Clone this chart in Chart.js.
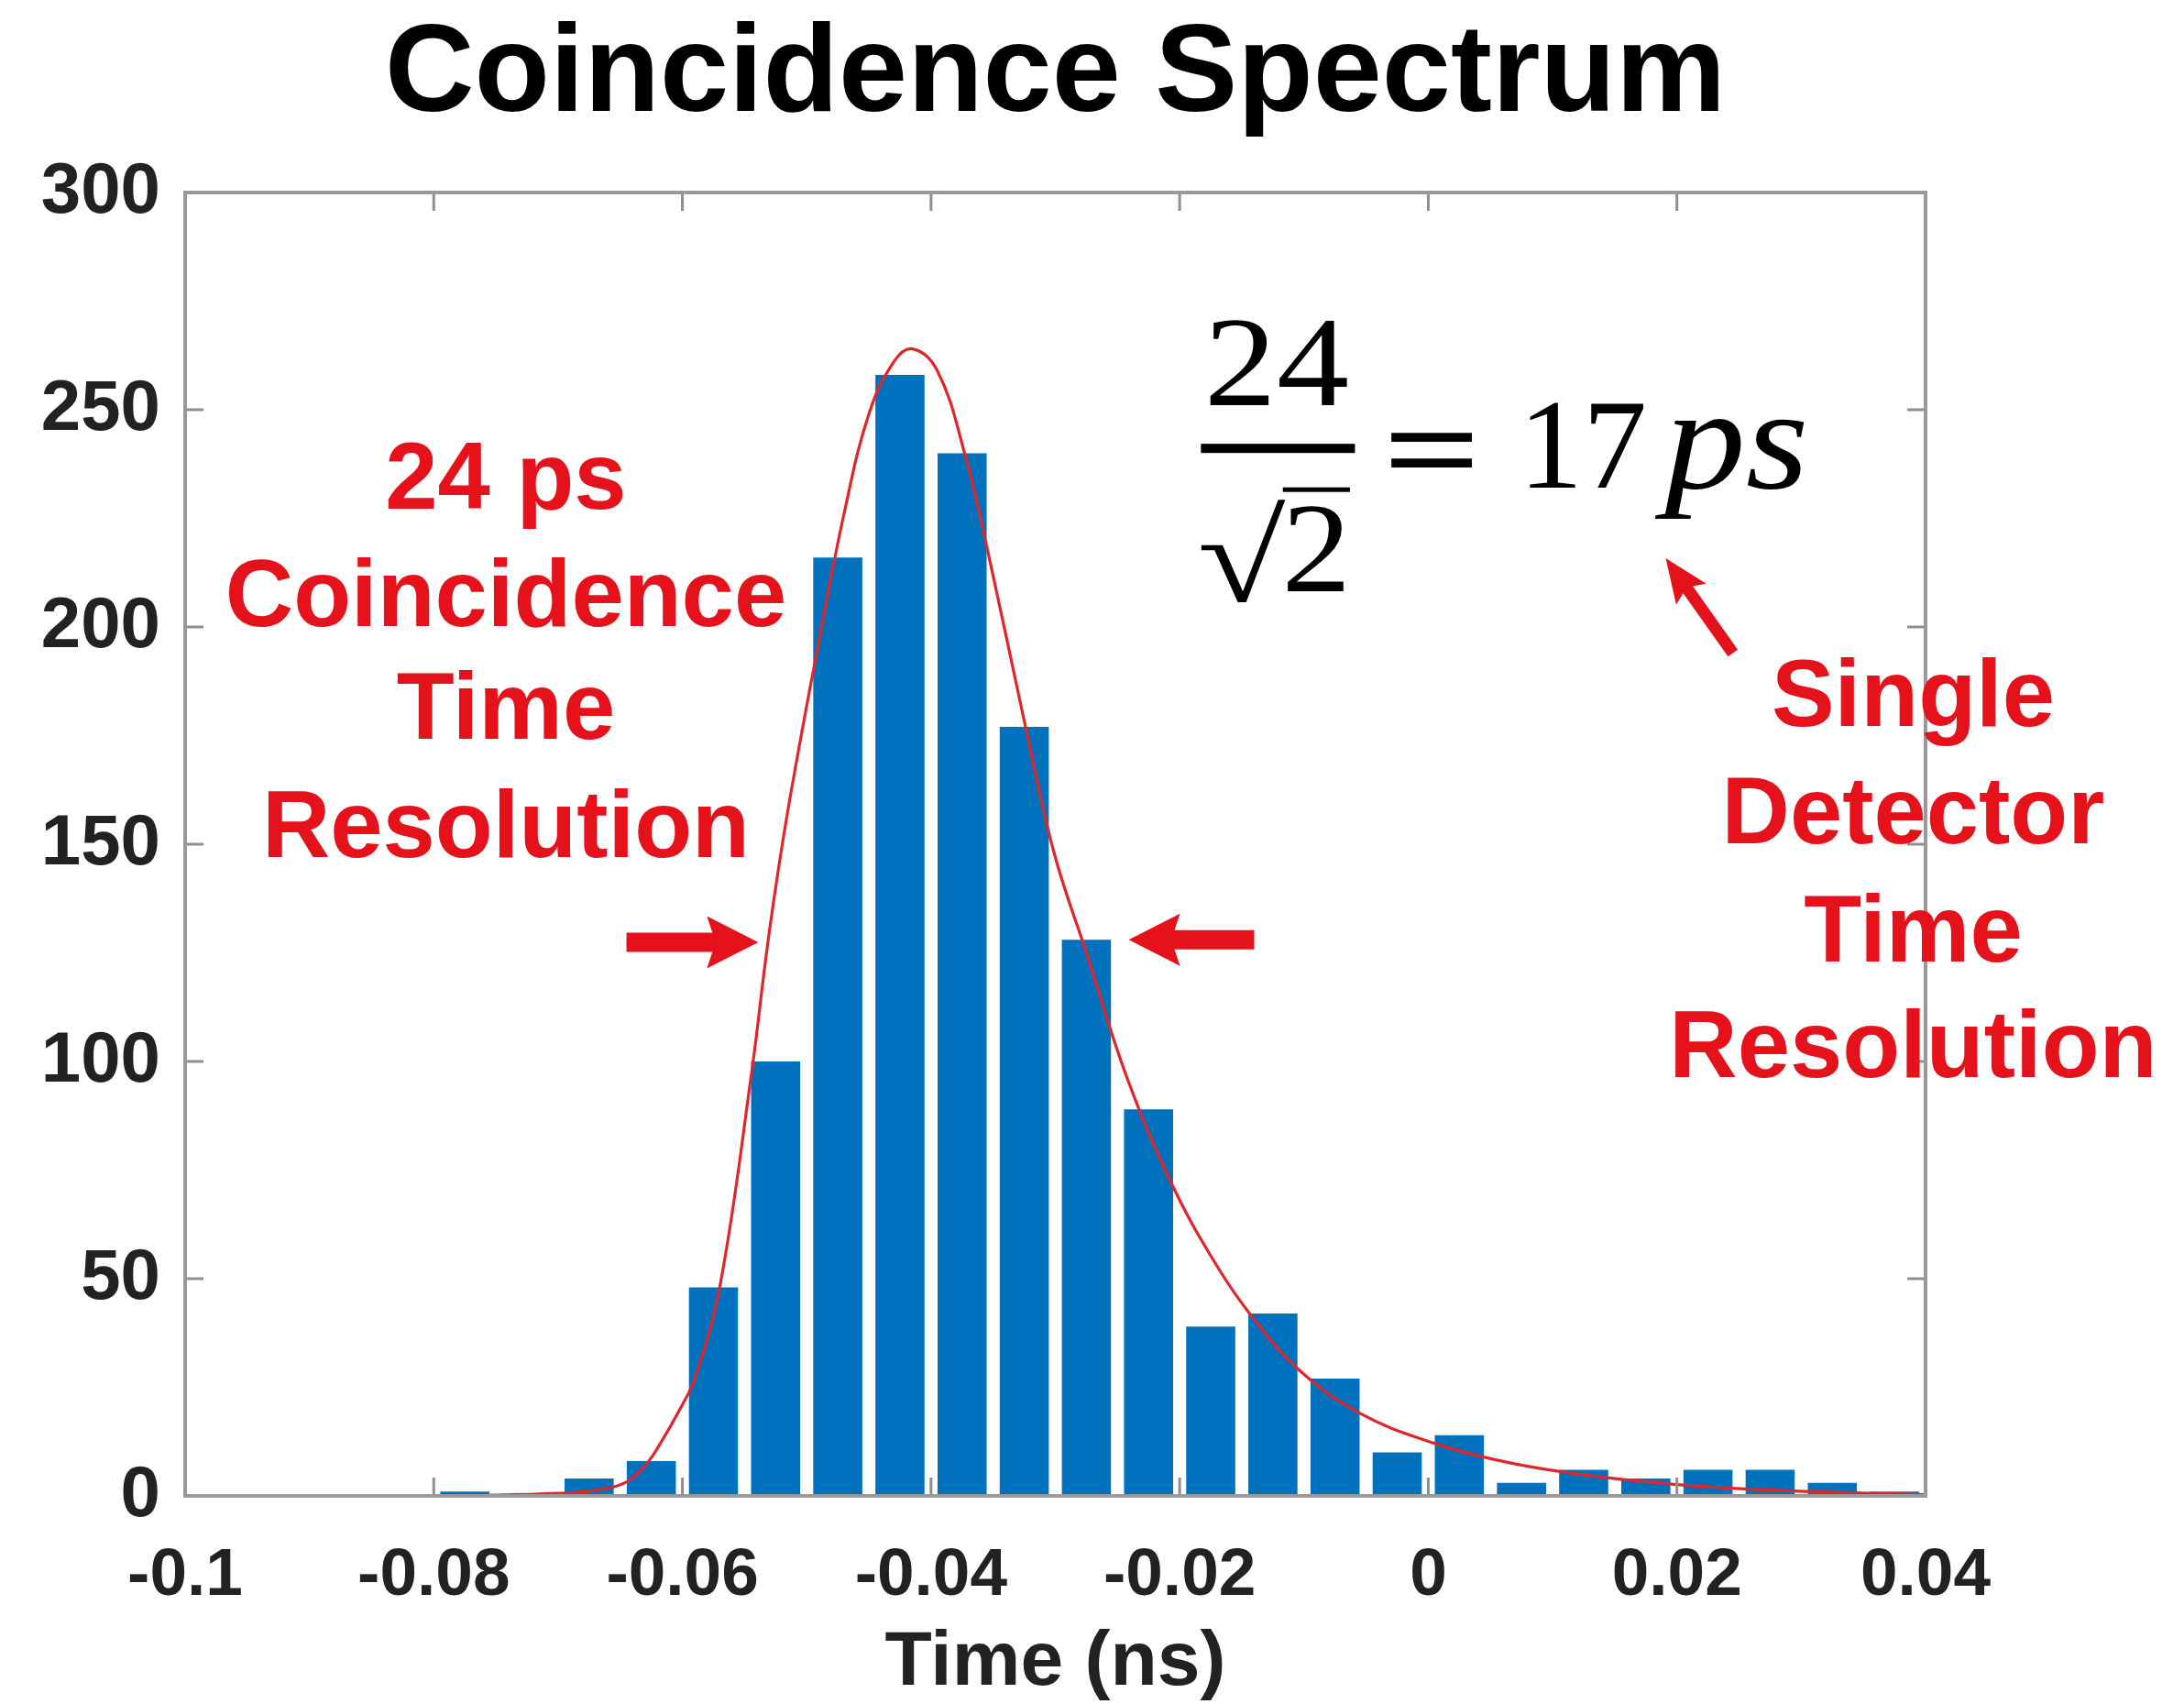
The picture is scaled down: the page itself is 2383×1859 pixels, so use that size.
<!DOCTYPE html>
<html>
<head>
<meta charset="utf-8">
<script src="https://cdn.jsdelivr.net/npm/chart.js@4.4.1/dist/chart.umd.min.js"></script>
<style>
  html, body { margin: 0; padding: 0; background: #fff; }
  canvas { display: block; }
</style>
</head>
<body>
<canvas id="spectrum" width="2383" height="1859"></canvas>
<script>
// Histogram bins (ns) and counts
const binCenters = [-0.0775, -0.0725, -0.0675, -0.0625, -0.0575, -0.0525, -0.0475, -0.0425,
                    -0.0375, -0.0325, -0.0275, -0.0225, -0.0175, -0.0125, -0.0075, -0.0025,
                    0.0025, 0.0075, 0.0125, 0.0175, 0.0225, 0.0275, 0.0325, 0.0375];
const counts = [1, 0, 4, 8, 48, 100, 216, 258,
                240, 177, 128, 89, 39, 42, 27, 10,
                14, 3, 6, 4, 6, 6, 3, 1];

// Fit curve
const fitTimes = [-0.1, -0.085, -0.075, -0.07, -0.067, -0.0645, -0.063, -0.062, -0.06, -0.059,
                  -0.057, -0.0545, -0.053, -0.0515, -0.049, -0.047, -0.045, -0.043, -0.0415, -0.0395,
                  -0.0373, -0.0354, -0.0324, -0.0301, -0.0275, -0.0242, -0.0205, -0.0168, -0.0141, -0.0104,
                  -0.0055, 0.0006, 0.0056, 0.0106, 0.0169, 0.024, 0.031, 0.04];
const fitCounts = [0, 0, 0.2, 0.6, 1.3, 3.2, 7, 11, 21, 27,
                   48, 96, 130, 158, 197, 226, 249, 261, 264, 259,
                   240, 217, 177, 148, 125, 96, 71, 52, 41, 29,
                   19, 12, 8.2, 5.6, 3.4, 1.8, 1.0, 0.3];

// Axis ticks
const timeTicks = [-0.1, -0.08, -0.06, -0.04, -0.02, 0, 0.02, 0.04];
const countTicks = [0, 50, 100, 150, 200, 250, 300];

// Annotation text
const leftNote = ['24 ps', 'Coincidence', 'Time', 'Resolution'];
const rightNote = ['Single', 'Detector', 'Time', 'Resolution'];

const RED = '#e5121b';
const SANS = '"Liberation Sans", Arial, sans-serif';
const SERIF = '"Liberation Serif", "Times New Roman", serif';

function drawArrow(ctx, x1, y1, x2, y2, shaft, headLen, headW) {
    const ang = Math.atan2(y2 - y1, x2 - x1);
    const len = Math.hypot(x2 - x1, y2 - y1);
    ctx.save();
    ctx.translate(x1, y1);
    ctx.rotate(ang);
    ctx.beginPath();
    ctx.moveTo(0, -shaft / 2);
    ctx.lineTo(len - headLen, -shaft / 2);
    ctx.lineTo(len - headLen - 6, -headW / 2);
    ctx.lineTo(len, 0);
    ctx.lineTo(len - headLen - 6, headW / 2);
    ctx.lineTo(len - headLen, shaft / 2);
    ctx.lineTo(0, shaft / 2);
    ctx.closePath();
    ctx.fill();
    ctx.restore();
}

// text stretched horizontally (the math font is wider than Liberation Serif)
function wideText(ctx, s, x, y, sx) {
    ctx.save();
    ctx.translate(x, y);
    ctx.scale(sx, 1);
    ctx.fillText(s, 0, 0);
    ctx.restore();
}

// Box around the axes with inward ticks (MATLAB style)
const boxPlugin = {
    id: 'box',
    afterDatasetsDraw(chart) {
        const { ctx, chartArea: a, scales } = chart;
        const tick = 20;
        ctx.save();
        ctx.strokeStyle = '#8e8e8e';
        ctx.lineWidth = 3;
        ctx.beginPath();
        scales.x.ticks.forEach(t => {
            const px = scales.x.getPixelForValue(t.value);
            ctx.moveTo(px, a.bottom); ctx.lineTo(px, a.bottom - tick);
            ctx.moveTo(px, a.top); ctx.lineTo(px, a.top + tick);
        });
        scales.y.ticks.forEach(t => {
            const py = scales.y.getPixelForValue(t.value);
            ctx.moveTo(a.left, py); ctx.lineTo(a.left + tick, py);
            ctx.moveTo(a.right, py); ctx.lineTo(a.right - tick, py);
        });
        ctx.stroke();
        ctx.lineWidth = 4;
        ctx.strokeStyle = '#999';
        ctx.strokeRect(a.left, a.top, a.right - a.left, a.bottom - a.top);
        ctx.restore();
    },
    afterDraw(chart) {
        const { ctx, scales } = chart;
        const px = v => scales.x.getPixelForValue(v);
        const py = v => scales.y.getPixelForValue(v);
        ctx.save();

        // red notes
        ctx.fillStyle = RED;
        ctx.font = `bold 103px ${SANS}`;
        ctx.textAlign = 'center';
        ctx.textBaseline = 'middle';
        const leftY = [233.2, 206.2, 180.2, 153.0];
        leftNote.forEach((s, i) => ctx.fillText(s, px(-0.0742), py(leftY[i])));
        const rightY = [183.3, 156.1, 129.0, 102.5];
        rightNote.forEach((s, i) => ctx.fillText(s, px(0.039), py(rightY[i])));

        // arrows
        drawArrow(ctx, px(-0.0645), py(127.4), px(-0.0539), py(127.4), 21, 50, 57);
        drawArrow(ctx, px(-0.0140), py(128), px(-0.0241), py(128), 21, 50, 57);
        drawArrow(ctx, px(0.0245), py(194), px(0.0191), py(215.8), 13, 42, 40);

        // 24 / sqrt(2) = 17 ps
        ctx.fillStyle = '#000';
        ctx.textBaseline = 'alphabetic';
        ctx.font = `140px ${SERIF}`;
        ctx.textAlign = 'center';
        wideText(ctx, '24', px(-0.0122), py(251), 1.13);
        ctx.fillRect(px(-0.01829), py(241.1) - 5, px(-0.0059) - px(-0.01829), 10);
        wideText(ctx, '2', px(-0.0090), py(208.2), 1.08);
        ctx.textAlign = 'right';
        wideText(ctx, '\u221A', px(-0.0115), py(206), 1.25);
        ctx.fillRect(px(-0.0117), py(231.5) - 3, px(-0.0063) - px(-0.0117), 5);
        ctx.textAlign = 'center';
        ctx.font = `bold 140px ${SERIF}`;
        wideText(ctx, '=', px(0.0003), py(230.9), 1.35);
        ctx.font = `140px ${SERIF}`;
        ctx.textAlign = 'left';
        ctx.fillText('17', px(0.00727), py(232));
        ctx.font = `italic 158px ${SERIF}`;
        wideText(ctx, 'ps', px(0.0190), py(232), 1.12);
        ctx.restore();
    }
};

const fmt = v => String(Number(v.toFixed(2)));

new Chart(document.getElementById('spectrum'), {
    type: 'bar',
    data: {
        datasets: [
            {
                type: 'line',
                data: fitTimes.map((t, i) => ({ x: t, y: fitCounts[i] })),
                borderColor: '#e0262b',
                borderWidth: 3.2,
                pointRadius: 0,
                tension: 0.4,
                order: 0
            },
            {
                type: 'bar',
                data: binCenters.map((t, i) => ({ x: t, y: counts[i] })),
                backgroundColor: '#0072bd',
                borderWidth: 0,
                barPercentage: 0.79,
                categoryPercentage: 1.0,
                order: 1
            }
        ]
    },
    options: {
        responsive: false,
        animation: false,
        devicePixelRatio: 1,
        layout: { padding: { left: 0, right: 282, top: 0, bottom: 0 } },
        plugins: {
            legend: { display: false },
            tooltip: { enabled: false },
            title: {
                display: true,
                text: 'Coincidence Spectrum',
                color: '#000',
                fullSize: false,
                font: { family: SANS, size: 135, weight: 'bold', lineHeight: 1 },
                padding: { top: 16, bottom: 59 }
            }
        },
        scales: {
            x: {
                type: 'linear',
                min: -0.1,
                max: 0.04,
                offset: false,
                grid: { display: false, drawTicks: false },
                border: { display: false },
                afterBuildTicks: s => { s.ticks = timeTicks.map(v => ({ value: v })); },
                afterFit: s => { s.height = 227; },
                ticks: {
                    autoSkip: false,
                    maxRotation: 0,
                    padding: 44,
                    color: '#222',
                    font: { family: SANS, size: 73, weight: 'bold' },
                    callback: v => fmt(v)
                },
                title: {
                    display: true,
                    text: 'Time (ns)',
                    color: '#222',
                    font: { family: SANS, size: 84, weight: 'bold', lineHeight: 1 },
                    padding: { top: 0, bottom: 2 }
                }
            },
            y: {
                min: 0,
                max: 300,
                grid: { display: false, drawTicks: false },
                border: { display: false },
                afterBuildTicks: s => { s.ticks = countTicks.map(v => ({ value: v })); },
                afterFit: s => { s.width = 202; },
                ticks: {
                    padding: 27,
                    color: '#222',
                    font: { family: SANS, size: 78, weight: 'bold' }
                }
            }
        }
    },
    plugins: [boxPlugin]
});
</script>
</body>
</html>
